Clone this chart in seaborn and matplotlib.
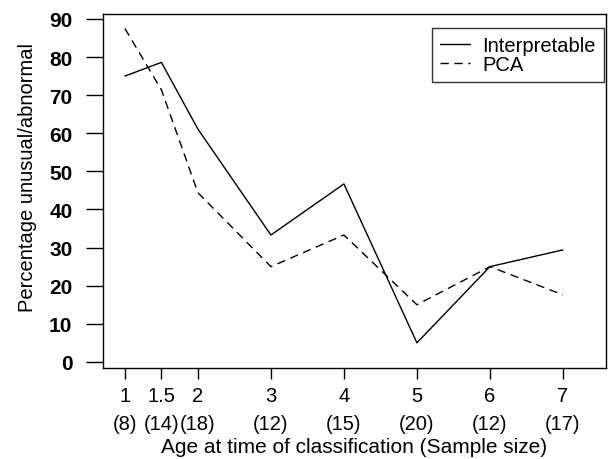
import matplotlib
matplotlib.use("Agg")
import matplotlib.pyplot as plt
import seaborn as sns
import pandas as pd

ages = [1, 1.5, 2, 3, 4, 5, 6, 7]
sample_sizes = [8, 14, 18, 12, 15, 20, 12, 17]
interpretable = [75.0, 78.6, 61.1, 33.3, 46.7, 5.0, 25.0, 29.4]
pca = [87.5, 71.4, 44.4, 25.0, 33.3, 15.0, 25.0, 17.6]
yticks = [0, 10, 20, 30, 40, 50, 60, 70, 80, 90]

sns.set_theme(style="white")
plt.rcParams['font.family'] = ['Liberation Sans', 'DejaVu Sans']
plt.rcParams['text.color'] = 'black'
plt.rcParams['axes.labelcolor'] = 'black'
plt.rcParams['xtick.color'] = 'black'
plt.rcParams['ytick.color'] = 'black'

df = pd.DataFrame({
    "age": ages * 2,
    "value": interpretable + pca,
    "series": ["Interpretable"] * len(ages) + ["PCA"] * len(ages),
})

fig = plt.figure(figsize=(6.08, 4.6), dpi=100)
ax = fig.add_axes([103 / 608, 1 - 369 / 460, 503 / 608, 354 / 460])

sns.lineplot(data=df, x="age", y="value", hue="series", style="series",
             palette=["black", "black"], dashes=[(None, None), (6, 4)],
             linewidth=1.0, ax=ax, legend=True)

ax.set_xlim(0.70, 7.59)
ax.set_ylim(-1.6, 91.3)
ax.set_xticks(ages)
ax.set_xticklabels([f"{a:g}\n({n})" for a, n in zip(ages, sample_sizes)],
                   fontsize=14.5, linespacing=1.6)
ax.set_yticks(yticks)
ax.set_yticklabels([str(v) for v in yticks], fontsize=15, fontweight="bold")
ax.tick_params(axis="y", direction="out", length=12, width=1.0, color="black",
               left=True, pad=10)
ax.tick_params(axis="x", direction="out", length=8, width=1.0, color="black",
               bottom=True, pad=5)
for s in ax.spines.values():
    s.set_color("black")
    s.set_linewidth(1.0)

ax.set_xlabel("Age at time of classification (Sample size)", fontsize=15, labelpad=3)
ax.set_ylabel("Percentage unusual/abnormal", fontsize=14.5)
ax.yaxis.set_label_coords(-0.132, 0.542)

leg = ax.legend(loc="upper right", bbox_to_anchor=(0.996, 0.96), fontsize=14.5,
                frameon=True, fancybox=False, edgecolor="black",
                handlelength=1.5, borderpad=0.4, labelspacing=0.0,
                handletextpad=0.6, borderaxespad=0.0)
leg.get_frame().set_linewidth(1.0)

fig.savefig("out.png", dpi=100)
